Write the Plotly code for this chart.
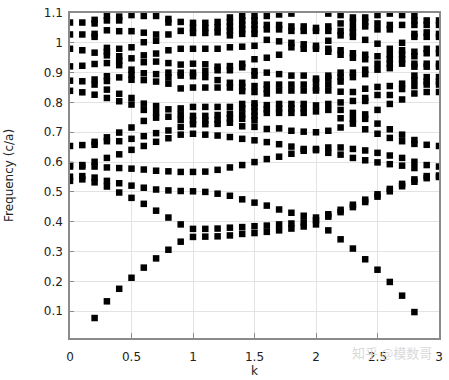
import plotly.graph_objects as go

# k sampling (0 to 3 in steps of 0.1)
k_values = [round(i * 0.1, 1) for i in range(31)]

# eigenfrequencies (c/a) found at each k
k00 = [1.068, 1.028, 0.980, 0.921, 0.873, 0.839, 0.654, 0.590, 0.585, 0.551, 0.537]
k01 = [1.068, 1.028, 0.975, 0.923, 0.871, 0.834, 0.657, 0.590, 0.585, 0.553, 0.542]
k02 = [1.077, 1.065, 1.030, 1.020, 0.967, 0.929, 0.877, 0.860, 0.826, 0.668, 0.658, 0.601, 0.585, 0.548, 0.532, 0.077]
k03 = [1.090, 1.075, 1.042, 0.983, 0.970, 0.958, 0.932, 0.888, 0.872, 0.843, 0.815, 0.683, 0.670, 0.614, 0.582, 0.537, 0.518, 0.133]
k04 = [1.088, 1.075, 1.039, 0.980, 0.955, 0.940, 0.925, 0.884, 0.829, 0.804, 0.699, 0.670, 0.626, 0.580, 0.529, 0.498, 0.175]
k05 = [1.093, 1.039, 0.985, 0.948, 0.910, 0.893, 0.876, 0.815, 0.793, 0.716, 0.678, 0.641, 0.578, 0.521, 0.480, 0.212]
k06 = [1.090, 1.034, 1.002, 0.958, 0.935, 0.898, 0.875, 0.796, 0.775, 0.738, 0.687, 0.654, 0.575, 0.514, 0.460, 0.246]
k07 = [1.090, 1.028, 1.007, 0.964, 0.937, 0.895, 0.870, 0.788, 0.767, 0.749, 0.697, 0.668, 0.571, 0.508, 0.437, 0.277]
k08 = [1.080, 1.068, 1.028, 0.975, 0.932, 0.900, 0.884, 0.863, 0.777, 0.752, 0.706, 0.680, 0.569, 0.505, 0.414, 0.306]
k09 = [1.070, 1.040, 0.980, 0.927, 0.900, 0.890, 0.847, 0.780, 0.760, 0.742, 0.718, 0.692, 0.567, 0.503, 0.391, 0.333]
k10 = [1.067, 1.050, 1.033, 0.980, 0.930, 0.900, 0.888, 0.850, 0.785, 0.755, 0.740, 0.727, 0.695, 0.567, 0.502, 0.376, 0.349]
k11 = [1.067, 1.050, 1.033, 0.980, 0.928, 0.905, 0.885, 0.850, 0.785, 0.755, 0.740, 0.727, 0.692, 0.568, 0.500, 0.376, 0.350]
k12 = [1.070, 1.052, 1.035, 0.980, 0.920, 0.908, 0.875, 0.850, 0.785, 0.758, 0.742, 0.728, 0.689, 0.574, 0.494, 0.377, 0.351]
k13 = [1.085, 1.070, 1.055, 1.040, 1.025, 0.985, 0.922, 0.908, 0.866, 0.850, 0.785, 0.762, 0.747, 0.732, 0.684, 0.582, 0.487, 0.380, 0.354]
k14 = [1.090, 1.075, 1.060, 1.045, 1.030, 0.987, 0.930, 0.918, 0.866, 0.852, 0.838, 0.795, 0.780, 0.760, 0.745, 0.720, 0.678, 0.590, 0.475, 0.382, 0.359]
k15 = [1.090, 1.075, 1.060, 1.045, 1.030, 0.990, 0.945, 0.905, 0.890, 0.855, 0.835, 0.797, 0.785, 0.770, 0.755, 0.740, 0.718, 0.673, 0.600, 0.464, 0.385, 0.362]
k16 = [1.090, 1.060, 1.045, 1.010, 0.950, 0.900, 0.860, 0.845, 0.830, 0.791, 0.777, 0.765, 0.711, 0.667, 0.610, 0.454, 0.387, 0.366]
k17 = [1.095, 1.060, 1.045, 1.005, 0.960, 0.895, 0.860, 0.840, 0.795, 0.780, 0.765, 0.713, 0.660, 0.618, 0.441, 0.391, 0.371]
k18 = [1.098, 1.055, 1.040, 1.000, 0.985, 0.890, 0.860, 0.840, 0.795, 0.780, 0.765, 0.705, 0.652, 0.628, 0.430, 0.394, 0.377]
k19 = [1.055, 1.040, 0.995, 0.980, 0.890, 0.860, 0.840, 0.795, 0.780, 0.765, 0.702, 0.644, 0.638, 0.420, 0.398, 0.384]
k20 = [1.050, 1.040, 0.990, 0.980, 0.880, 0.870, 0.850, 0.840, 0.790, 0.770, 0.700, 0.644, 0.640, 0.414, 0.405, 0.391]
k21 = [1.098, 1.055, 1.040, 1.007, 0.980, 0.970, 0.890, 0.880, 0.860, 0.840, 0.795, 0.775, 0.705, 0.649, 0.631, 0.425, 0.417, 0.371]
k22 = [1.093, 1.065, 1.040, 1.025, 0.975, 0.960, 0.900, 0.885, 0.870, 0.836, 0.800, 0.775, 0.747, 0.716, 0.649, 0.625, 0.440, 0.432, 0.341]
k23 = [1.085, 1.070, 1.050, 1.035, 1.020, 0.965, 0.950, 0.900, 0.885, 0.835, 0.805, 0.765, 0.745, 0.729, 0.644, 0.614, 0.457, 0.449, 0.310]
k24 = [1.085, 1.070, 1.055, 1.010, 0.960, 0.945, 0.910, 0.895, 0.846, 0.815, 0.805, 0.760, 0.745, 0.710, 0.639, 0.606, 0.474, 0.466, 0.274]
k25 = [1.093, 1.065, 1.045, 0.997, 0.955, 0.930, 0.910, 0.852, 0.825, 0.775, 0.729, 0.695, 0.631, 0.599, 0.492, 0.484, 0.239]
k26 = [1.098, 1.060, 1.045, 0.980, 0.960, 0.945, 0.930, 0.915, 0.855, 0.825, 0.795, 0.710, 0.681, 0.622, 0.593, 0.510, 0.502, 0.198]
k27 = [1.093, 1.060, 1.000, 0.975, 0.960, 0.945, 0.930, 0.863, 0.845, 0.810, 0.692, 0.670, 0.614, 0.588, 0.527, 0.519, 0.152]
k28 = [1.090, 1.075, 1.060, 1.030, 1.020, 0.970, 0.955, 0.930, 0.920, 0.890, 0.875, 0.855, 0.830, 0.674, 0.661, 0.601, 0.580, 0.542, 0.534, 0.097]
k29 = [1.075, 1.060, 1.035, 1.020, 0.980, 0.965, 0.930, 0.920, 0.885, 0.870, 0.860, 0.835, 0.658, 0.590, 0.553, 0.546]
k30 = [1.075, 1.060, 1.030, 1.020, 0.980, 0.965, 0.930, 0.920, 0.885, 0.870, 0.860, 0.835, 0.654, 0.585, 0.555, 0.550]

columns = [k00, k01, k02, k03, k04, k05, k06, k07, k08, k09, k10,
           k11, k12, k13, k14, k15, k16, k17, k18, k19, k20,
           k21, k22, k23, k24, k25, k26, k27, k28, k29, k30]

x_ticks = [0, 0.5, 1, 1.5, 2, 2.5, 3]
x_tick_text = ["0", "0.5", "1", "1.5", "2", "2.5", "3"]
y_ticks = [0.1, 0.2, 0.3, 0.4, 0.5, 0.6, 0.7, 0.8, 0.9, 1.0, 1.1]
y_tick_text = ["0.1", "0.2", "0.3", "0.4", "0.5", "0.6", "0.7", "0.8", "0.9", "1", "1.1"]

xs, ys = [], []
for k, col in zip(k_values, columns):
    for f in col:
        xs.append(k)
        ys.append(f)

FONT = "DejaVu Sans"
AXIS_GRAY = "#8a8a8a"
GRID_GRAY = "#e3e3e3"

fig = go.Figure()
fig.add_trace(go.Scatter(
    x=xs, y=ys, mode="markers",
    marker=dict(symbol="square", size=6.5, color="black", line=dict(width=0)),
    showlegend=False,
))

fig.update_layout(
    width=449, height=380,
    margin=dict(l=70, r=6, t=6, b=34),
    paper_bgcolor="white", plot_bgcolor="white",
    font=dict(family=FONT, size=12, color="#222222"),
    xaxis=dict(
        range=[0, 3], tickvals=x_ticks, ticktext=x_tick_text,
        showgrid=True, gridcolor=GRID_GRAY, gridwidth=1,
        showline=True, linecolor=AXIS_GRAY, linewidth=1.5, mirror=True,
        ticks="inside", ticklen=5, tickcolor=AXIS_GRAY,
        ticklabelstandoff=7,
        zeroline=False,
        title=dict(text="k", standoff=1, font=dict(size=12)),
    ),
    yaxis=dict(
        range=[0.01, 1.1], tickvals=y_ticks, ticktext=y_tick_text,
        showgrid=True, gridcolor=GRID_GRAY, gridwidth=1,
        showline=True, linecolor=AXIS_GRAY, linewidth=1.5, mirror=True,
        ticks="inside", ticklen=4, tickcolor=AXIS_GRAY,
        ticklabelstandoff=3,
        zeroline=False,
        title=dict(text="Frequency (c/a)", standoff=28, font=dict(size=12)),
    ),
    annotations=[dict(
        text="知乎 @模数哥", x=(395 - 70) / 373, y=-(361 - 346) / 340,
        xref="paper", yref="paper", xanchor="center", yanchor="middle",
        showarrow=False, font=dict(family="Noto Sans CJK SC", size=13, color="#d9d9d9"),
    )],
)

fig.write_html("out.html")
